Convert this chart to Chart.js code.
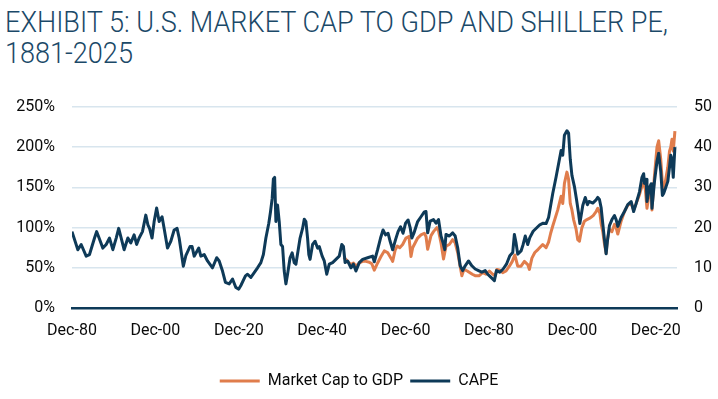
<!DOCTYPE html>
<html><head><meta charset="utf-8">
<script src="https://cdn.jsdelivr.net/npm/chart.js@4.4.1/dist/chart.umd.min.js"></script>
<style>
html,body{margin:0;padding:0;background:#fff;}
#wrap{position:relative;width:718px;height:399px;overflow:hidden;background:#fff;}
#title{position:absolute;left:5px;top:6px;font-family:Roboto,sans-serif;font-weight:300;font-size:30px;line-height:31px;color:#1b4968;transform-origin:0 0;white-space:nowrap;}
#title span{display:block;}
canvas{position:absolute;left:0;top:0;}
</style></head>
<body><div id="wrap"><div id="title"><span id="t1">EXHIBIT 5: U.S. MARKET CAP TO GDP AND SHILLER PE,</span><span>1881-2025</span></div><canvas id="c" width="718" height="399"></canvas></div>
<script>
// CAPE (Shiller PE), right axis
const capeDates = [1881.0,1882.4,1883.2,1884.4,1885.2,1886.4,1886.9,1887.5,1888.4,1889.2,1890.0,1890.8,1891.6,1892.2,1892.8,1893.5,1894.4,1895.1,1895.9,1896.5,1897.1,1897.9,1898.7,1899.2,1899.6,1900.2,1900.7,1901.3,1901.9,1902.6,1903.1,1903.9,1904.7,1905.5,1906.2,1906.7,1907.7,1908.3,1909.3,1909.8,1910.3,1911.4,1911.9,1912.7,1913.5,1914.7,1915.7,1916.3,1917.1,1917.8,1918.7,1919.5,1920.3,1921.0,1921.5,1922.6,1923.1,1923.9,1924.7,1925.5,1926.3,1926.9,1927.5,1928.2,1928.6,1929.0,1929.3,1929.6,1929.9,1930.3,1930.7,1931.1,1931.5,1931.9,1932.3,1932.7,1933.3,1933.8,1934.3,1934.7,1935.7,1936.3,1936.7,1937.1,1937.5,1937.8,1938.1,1938.7,1939.3,1939.9,1940.3,1941.0,1941.5,1942.1,1942.7,1943.5,1944.3,1945.1,1945.7,1946.1,1946.5,1947.1,1947.9,1948.5,1949.1,1949.9,1950.7,1951.9,1953.1,1953.5,1954.3,1955.0,1955.6,1956.2,1956.8,1957.3,1957.9,1958.6,1959.2,1959.8,1960.4,1961.0,1961.6,1962.1,1962.5,1963.0,1963.9,1964.7,1965.5,1965.9,1966.3,1966.9,1967.7,1968.3,1968.9,1969.5,1970.0,1970.4,1970.7,1971.5,1972.3,1972.9,1973.5,1974.1,1974.7,1975.3,1976.1,1976.9,1977.7,1978.5,1979.3,1980.1,1980.7,1981.5,1982.3,1982.8,1983.6,1984.4,1985.2,1986.0,1986.7,1987.1,1987.5,1987.9,1988.7,1989.2,1989.7,1990.3,1990.8,1991.6,1992.4,1993.2,1994.0,1994.7,1995.3,1995.8,1996.3,1997.1,1997.7,1998.3,1998.7,1999.1,1999.7,2000.1,2000.5,2000.9,2001.5,2002.0,2002.5,2002.8,2003.5,2004.1,2004.6,2005.0,2005.9,2006.7,2007.1,2007.5,2007.9,2008.3,2008.7,2009.1,2009.4,2009.9,2010.5,2011.1,2011.5,2011.9,2012.7,2013.5,2014.3,2015.1,2015.7,2016.3,2017.1,2017.7,2018.1,2018.3,2018.7,2018.9,2019.5,2019.9,2020.1,2020.7,2021.3,2021.7,2022.2,2022.6,2022.9,2023.4,2023.9,2024.3,2024.6,2024.9,2025.2,2025.6];
const capeValues = [19.0,14.5,15.8,12.9,13.3,17.4,19.0,17.4,14.9,15.8,17.4,14.5,17.4,19.8,17.4,14.5,17.4,16.2,18.2,15.8,17.4,19.0,23.1,20.7,19.8,17.4,21.5,24.9,21.5,22.7,19.8,14.9,16.6,19.4,19.8,17.4,10.4,13.0,15.3,15.3,12.9,14.9,12.9,13.3,11.7,10.0,12.5,11.7,9.2,6.4,6.0,7.2,5.1,4.7,5.6,8.0,8.4,7.6,8.8,10.0,11.3,13.3,17.4,21.1,23.9,27.2,32.1,32.5,21.5,25.6,21.5,15.8,15.3,9.2,6.0,8.4,12.5,13.7,11.3,10.9,17.4,19.8,22.1,21.5,17.4,13.3,12.1,15.8,16.6,14.9,15.3,12.9,11.7,8.4,10.9,11.3,12.1,12.9,15.8,15.3,11.3,11.7,10.0,10.9,9.2,11.3,12.1,12.5,12.9,11.5,14.5,17.4,19.4,18.2,18.6,16.6,14.5,17.0,19.0,20.2,18.6,21.1,21.9,20.0,17.4,18.6,21.5,22.7,23.9,24.0,18.7,21.6,22.0,21.1,22.0,17.9,16.2,14.5,18.3,17.9,18.7,17.9,15.0,10.5,9.3,10.5,11.7,10.5,9.7,9.3,8.9,9.3,8.4,7.6,6.8,9.3,8.9,9.7,10.9,13.0,13.8,18.3,16.2,13.4,14.2,15.8,17.9,15.8,17.5,19.1,19.9,20.7,21.1,21.0,22.5,25.5,28.5,32.6,35.9,39.2,38.0,43.0,44.1,43.5,37.0,33.0,30.2,27.0,23.5,21.0,25.5,27.5,25.7,26.5,26.1,26.9,27.5,27.0,25.0,21.0,17.0,13.5,16.5,20.5,22.0,23.0,22.0,20.3,22.5,24.0,25.7,26.5,24.0,26.0,28.9,32.5,33.4,31.0,32.0,26.5,30.0,30.9,24.8,31.5,36.5,38.5,34.0,28.0,28.5,30.0,31.5,35.0,38.0,37.0,32.5,40.0];
// Market cap to GDP (%), left axis
const mcapDates = [1946.2,1947.1,1947.9,1948.5,1949.1,1949.9,1950.7,1951.5,1952.3,1952.9,1953.5,1954.3,1955.1,1955.9,1956.7,1957.5,1957.9,1958.5,1959.0,1959.6,1960.3,1961.1,1961.8,1962.3,1962.7,1963.9,1964.7,1965.5,1965.9,1966.3,1967.1,1967.7,1968.5,1968.9,1969.5,1970.1,1970.7,1971.5,1972.3,1972.9,1973.5,1974.5,1975.0,1975.8,1977.0,1977.8,1978.6,1979.5,1980.3,1981.1,1981.9,1982.5,1982.9,1983.6,1984.3,1985.1,1985.9,1986.6,1987.2,1987.9,1988.7,1989.5,1990.3,1990.7,1991.3,1992.0,1992.8,1993.9,1994.7,1995.3,1995.8,1996.3,1997.5,1998.3,1998.7,1999.1,1999.7,2000.1,2000.5,2000.9,2001.3,2001.9,2002.3,2002.7,2003.3,2003.9,2004.5,2005.3,2006.0,2006.7,2007.1,2007.6,2007.9,2008.3,2008.7,2009.1,2009.4,2009.9,2010.5,2011.1,2011.5,2011.9,2012.7,2013.5,2014.3,2015.1,2015.7,2016.3,2017.1,2017.7,2018.1,2018.5,2018.9,2019.5,2019.9,2020.1,2020.7,2021.3,2021.7,2022.2,2022.6,2022.9,2023.4,2023.9,2024.3,2024.6,2024.9,2025.2,2025.6];
const mcapValues = [63,58,54,56,52,56,58,58,57,55,47,56,64,71,69,62,58,72,77,75,79,87,89,64,75,87,91,93,89,73,90,95,100,96,81,61,77,79,85,81,69,40,48,46,42,40,40,44,42,46,42,40,48,47,44,46,52,58,66,52,52,58,54,48,62,69,73,79,75,82,93,102,122,139,130,155,169,160,130,122,110,98,85,83,100,108,110,112,115,120,124,118,105,95,80,68,85,98,95,104,100,92,108,120,128,130,122,130,141,152,155,148,124,145,150,122,165,200,208,185,155,145,160,175,195,200,210,195,220];
// Axis tick labels
const xTickYears = [1881,1901,1921,1941,1961,1981,2001,2021];
const xTickLabels = ['Dec-80','Dec-00','Dec-20','Dec-40','Dec-60','Dec-80','Dec-00','Dec-20'];
const seriesNames = ['CAPE','Market Cap to GDP'];

const DARK = '#0e3a58';
const ORANGE = '#e07d4c';
const TXT = '#0a0a0a';
const FONT = {family:'Roboto, sans-serif', size:16, weight:'400'};

// title width fit (condensed look)
const t = document.getElementById('title');
const w1 = document.getElementById('t1').getBoundingClientRect().width;
t.style.transform = 'scaleX(' + (663 / w1) + ')';

new Chart(document.getElementById('c'), {
  type: 'line',
  data: {
    datasets: [
      {label: seriesNames[0], data: capeDates.map((d,i)=>({x:d, y:capeValues[i]})), yAxisID:'y1',
       borderColor: DARK, backgroundColor: DARK, borderWidth: 3, pointRadius: 0, tension: 0, borderJoinStyle:'round'},
      {label: seriesNames[1], data: mcapDates.map((d,i)=>({x:d, y:mcapValues[i]})), yAxisID:'y',
       borderColor: ORANGE, backgroundColor: ORANGE, borderWidth: 3, pointRadius: 0, tension: 0, borderJoinStyle:'round'}
    ]
  },
  options: {
    responsive: false, animation: false,
    layout: {padding: {top: 107, left: 0, right: 0, bottom: 0}},
    plugins: {
      tooltip: {enabled: false},
      legend: {position: 'bottom', reverse: true,
        labels: {color: TXT, font: FONT, boxWidth: 40, boxHeight: 3, padding: 7,
          generateLabels: (chart) => Chart.defaults.plugins.legend.labels.generateLabels(chart).map(it => Object.assign(it, {lineWidth: 0}))}}
    },
    scales: {
      x: {type: 'linear', min: 1881, max: 2026.1,
        grid: {display: false, drawTicks: false},
        border: {display: true, color: DARK, width: 2.5},
        afterBuildTicks: (s) => { s.ticks = xTickYears.map(v => ({value: v})); },
        ticks: {color: TXT, font: FONT, padding: 13, maxRotation: 0, autoSkip: false,
          callback: (v) => { const i = xTickYears.indexOf(v); return i >= 0 ? xTickLabels[i] : ''; }},
        afterFit: (s) => { s.height = 58; }
      },
      y: {position: 'left', min: 0, max: 250,
        grid: {color: '#d8e5ee', lineWidth: 1.5, drawTicks: false},
        border: {display: false},
        ticks: {stepSize: 50, color: TXT, font: FONT, padding: 17, callback: (v) => v + '%'},
        afterFit: (s) => { s.width = 72; }
      },
      y1: {position: 'right', min: 0, max: 50,
        grid: {display: false, drawTicks: false},
        border: {display: false},
        ticks: {stepSize: 10, color: TXT, font: FONT, padding: 17},
        afterFit: (s) => { s.width = 41; }
      }
    }
  }
});
</script>
</body></html>
